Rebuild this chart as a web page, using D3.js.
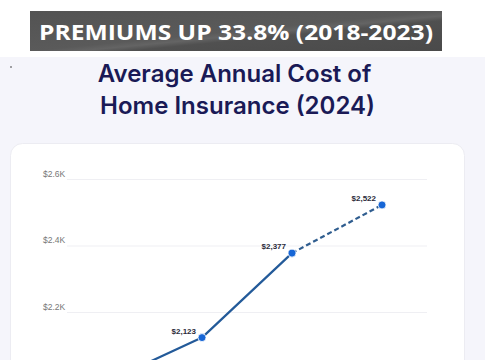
<!DOCTYPE html>
<html>
<head>
<meta charset="utf-8">
<script src="https://d3js.org/d3.v7.min.js"></script>
<style>
  html, body { margin: 0; padding: 0; background: #ffffff; overflow: hidden; }
  svg { display: block; }
</style>
</head>
<body>
<div id="chart"></div>
<script>
// Chart data
var years = ['2021', '2022', '2023', '2024'];
var costs = [1998, 2123, 2377, 2522];
var costLabels = ['$1,998', '$2,123', '$2,377', '$2,522'];
var tickValues = [2000, 2200, 2400, 2600];
var tickLabels = ['$2.0K', '$2.2K', '$2.4K', '$2.6K'];
var projectedFrom = 2; // segment from 2023 to 2024 is dashed

var width = 485, height = 360;

var svg = d3.select('#chart').append('svg')
  .attr('width', width)
  .attr('height', height);

var defs = svg.append('defs');
var grad = defs.append('linearGradient')
  .attr('id', 'banner')
  .attr('x1', '0%').attr('y1', '0%').attr('x2', '100%').attr('y2', '100%');
grad.append('stop').attr('offset', '0%').attr('stop-color', '#535353');
grad.append('stop').attr('offset', '50%').attr('stop-color', '#5a5a5a');
grad.append('stop').attr('offset', '56%').attr('stop-color', '#646464');
grad.append('stop').attr('offset', '62%').attr('stop-color', '#505050');
grad.append('stop').attr('offset', '100%').attr('stop-color', '#4a4a4a');

// page background
svg.append('rect').attr('x', 0).attr('y', 57).attr('width', width).attr('height', height - 57)
  .attr('fill', '#f5f5fb');

// banner
svg.append('rect')
  .attr('x', 30).attr('y', 11).attr('width', 412).attr('height', 40)
  .attr('fill', 'url(#banner)');
svg.append('text')
  .attr('x', 236).attr('y', 39.5)
  .attr('text-anchor', 'middle')
  .attr('font-family', 'Open Sans, sans-serif')
  .attr('font-weight', 700)
  .attr('font-size', 22)
  .attr('fill', '#ffffff')
  .attr('textLength', 394)
  .attr('lengthAdjust', 'spacingAndGlyphs')
  .text('PREMIUMS UP 33.8% (2018-2023)');

// title
var title = svg.append('text')
  .attr('text-anchor', 'middle')
  .attr('font-family', 'Inter, sans-serif')
  .attr('font-weight', 600)
  .attr('font-size', 24)
  .attr('fill', '#1a1a56');
title.append('tspan').attr('x', 234.5).attr('y', 82).text('Average Annual Cost of');
title.append('tspan').attr('x', 237.5).attr('y', 114).text('Home Insurance (2024)');

// card
svg.append('rect')
  .attr('x', 10.5).attr('y', 143.5).attr('width', 454).attr('height', 300)
  .attr('rx', 12)
  .attr('fill', '#ffffff')
  .attr('stroke', '#ececf2');

// scales
var x = d3.scalePoint().domain(years).range([67, 427]).padding(0.5);
var y = d3.scaleLinear().domain([2200, 2600]).range([312, 179]);

function visible(yy) { return yy < height - 4; }

// grid + tick labels
var axis = svg.append('g');
axis.selectAll('line')
  .data(tickValues)
  .join('line')
  .attr('x1', 67).attr('x2', 427)
  .attr('y1', function(d) { return y(d) + 0.5; })
  .attr('y2', function(d) { return y(d) + 0.5; })
  .attr('stroke', '#efeff3');
axis.selectAll('text')
  .data(tickValues.filter(function(d) { return visible(y(d)); }))
  .join('text')
  .attr('x', 43)
  .attr('y', function(d) { return y(d) - 2.5; })
  .attr('font-family', 'Liberation Sans, Arial, sans-serif')
  .attr('font-size', 8.5)
  .attr('fill', '#777777')
  .text(function(d) { return tickLabels[tickValues.indexOf(d)]; });

// line segments
var pts = costs.map(function(v, i) { return { year: years[i], value: v, label: costLabels[i] }; });
var line = d3.line()
  .x(function(d) { return x(d.year); })
  .y(function(d) { return y(d.value); });

svg.append('path')
  .datum(pts.slice(0, projectedFrom + 1))
  .attr('d', line)
  .attr('fill', 'none')
  .attr('stroke', '#235a99')
  .attr('stroke-width', 2.2)
  .attr('stroke-linejoin', 'round');
svg.append('path')
  .datum(pts.slice(projectedFrom))
  .attr('d', line)
  .attr('fill', 'none')
  .attr('stroke', '#2f5d8f')
  .attr('stroke-width', 2.2)
  .attr('stroke-dasharray', '5,3');

// points
svg.append('g').selectAll('circle')
  .data(pts)
  .join('circle')
  .attr('cx', function(d) { return x(d.year); })
  .attr('cy', function(d) { return y(d.value); })
  .attr('r', 4)
  .attr('fill', '#1766d6')
  .attr('stroke', '#ffffff')
  .attr('stroke-width', 0.8);

// value labels (only those inside the visible frame)
svg.append('g').selectAll('text')
  .data(pts.filter(function(d) { return visible(y(d.value)); }))
  .join('text')
  .attr('x', function(d) { return x(d.year) - 6; })
  .attr('y', function(d) { return y(d.value) - 4; })
  .attr('text-anchor', 'end')
  .attr('font-family', 'Liberation Sans, Arial, sans-serif')
  .attr('font-weight', 700)
  .attr('font-size', 8)
  .attr('fill', '#2a2a3a')
  .text(function(d) { return d.label; });

// stray dot on left
svg.append('circle').attr('cx', 11).attr('cy', 67).attr('r', 0.8).attr('fill', '#333');
</script>
</body>
</html>
